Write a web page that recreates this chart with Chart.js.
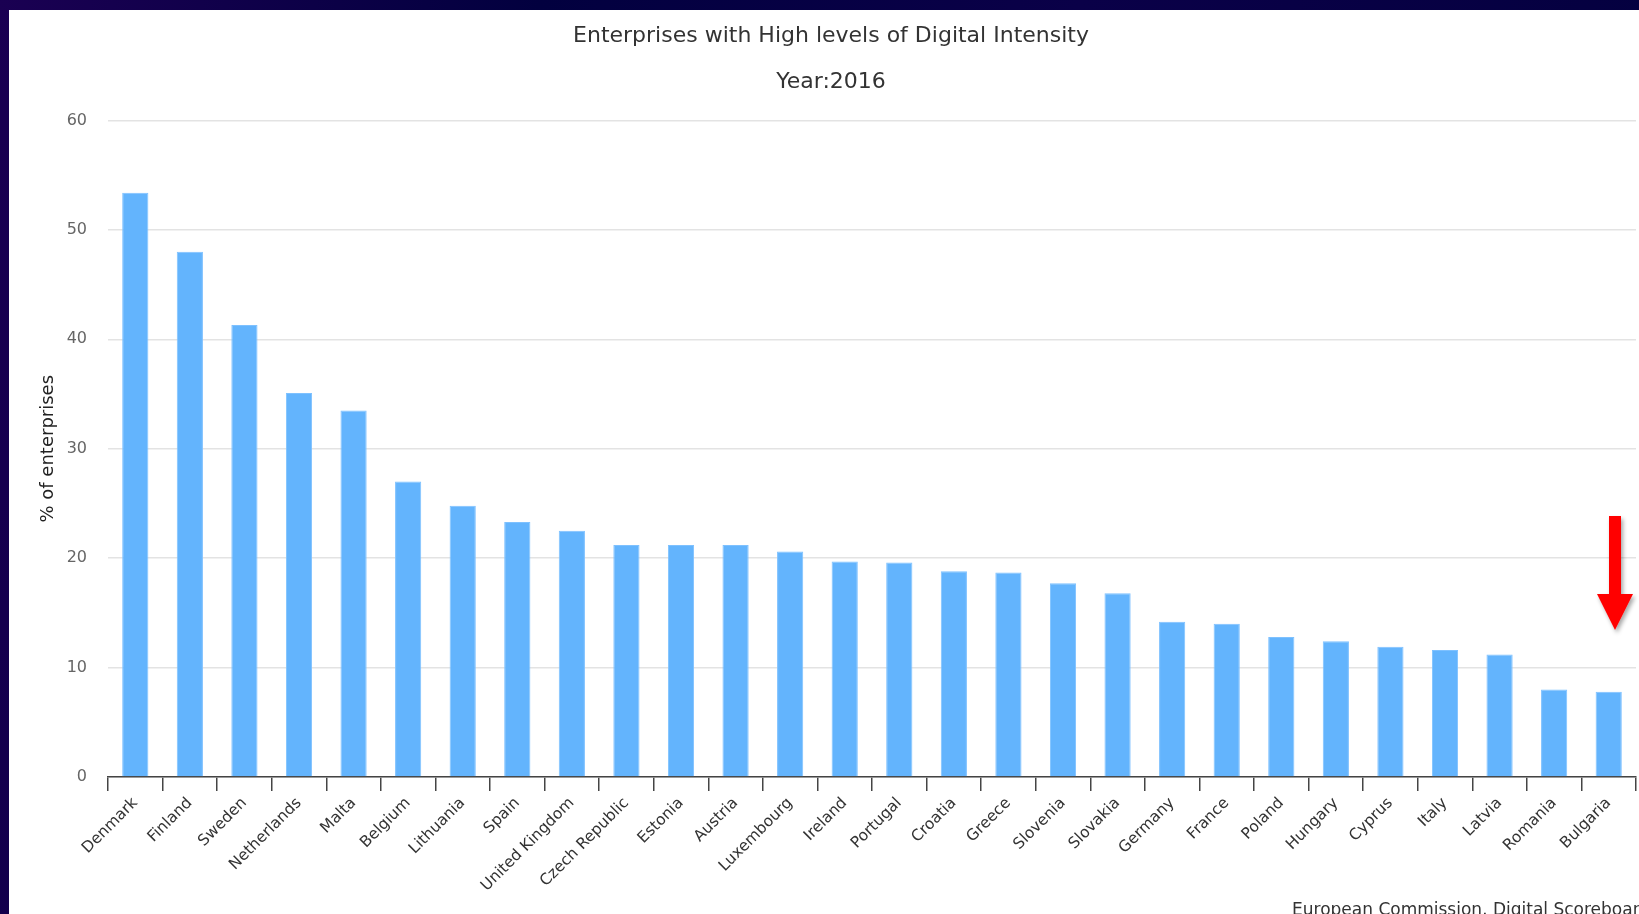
<!DOCTYPE html>
<html>
<head>
<meta charset="utf-8">
<title>Enterprises with High levels of Digital Intensity</title>
<script src="https://cdn.jsdelivr.net/npm/chart.js@4.4.1/dist/chart.umd.min.js"></script>
<style>
  html, body {
    margin: 0;
    padding: 0;
    width: 1639px;
    height: 914px;
    overflow: hidden;
    background: linear-gradient(100deg, #1a0052 0%, #02003f 30%, #0a0048 60%, #03003e 100%);
  }
  #panel {
    position: absolute;
    left: 9px;
    top: 10px;
    width: 1644px;
    height: 904px;
    background: #ffffff;
  }
  #myChart {
    position: absolute;
    left: 0;
    top: 0;
  }
  #source {
    position: absolute;
    left: 1283px;
    top: 889px;
    font-family: "DejaVu Sans", sans-serif;
    font-size: 17px;
    color: #333333;
    white-space: nowrap;
  }
  #arrow {
    position: absolute;
    left: 0;
    top: 0;
  }
</style>
</head>
<body>
<div id="panel">
  <canvas id="myChart" width="1644" height="904"></canvas>
  <div id="source">European Commission, Digital Scoreboard</div>
</div>
<svg id="arrow" width="1639" height="914">
  <defs>
    <filter id="shadow" x="-50%" y="-50%" width="200%" height="200%">
      <feDropShadow dx="2" dy="3" stdDeviation="2" flood-color="#000" flood-opacity="0.35"/>
    </filter>
  </defs>
  <polygon points="1609,516 1621,516 1621,594 1633,594 1615,630 1597,594 1609,594" fill="#ff0000" filter="url(#shadow)"/>
</svg>

<script>
/* chart data */
var countries = ['Denmark', 'Finland', 'Sweden', 'Netherlands', 'Malta', 'Belgium', 'Lithuania',
  'Spain', 'United Kingdom', 'Czech Republic', 'Estonia', 'Austria', 'Luxembourg', 'Ireland',
  'Portugal', 'Croatia', 'Greece', 'Slovenia', 'Slovakia', 'Germany', 'France', 'Poland',
  'Hungary', 'Cyprus', 'Italy', 'Latvia', 'Romania', 'Bulgaria'];
var shareOfEnterprises = [53.4, 48.0, 41.3, 35.1, 33.5, 27.0, 24.8,
  23.3, 22.5, 21.2, 21.2, 21.2, 20.6, 19.7,
  19.6, 18.8, 18.7, 17.7, 16.8, 14.2, 14.0, 12.8,
  12.4, 11.9, 11.6, 11.2, 8.0, 7.8];
var yTicks = [0, 10, 20, 30, 40, 50, 60];

var chartTitle = 'Enterprises with High levels of Digital Intensity';
var chartSubtitle = 'Year:2016';
var yAxisTitle = '% of enterprises';

var fontFamily = '"DejaVu Sans", sans-serif';

var config = {
  type: 'bar',
  data: {
    labels: countries,
    datasets: [{
      label: yAxisTitle,
      data: shareOfEnterprises,
      backgroundColor: '#63b4fd',
      borderColor: '#7ec1ff',
      borderWidth: 1,
      categoryPercentage: 1.0,
      barPercentage: 0.48
    }]
  },
  options: {
    responsive: false,
    devicePixelRatio: 1,
    animation: false,
    layout: {
      padding: { left: 17, right: 17, top: 0, bottom: 0 }
    },
    plugins: {
      legend: { display: false },
      tooltip: { enabled: false },
      title: {
        display: true,
        text: chartTitle,
        color: '#333333',
        font: { family: fontFamily, size: 22, weight: 'normal' },
        padding: { top: 13.3, bottom: 0 }
      },
      subtitle: {
        display: true,
        text: chartSubtitle,
        color: '#333333',
        font: { family: fontFamily, size: 22, weight: 'normal' },
        padding: { top: 19, bottom: 25.4 }
      }
    },
    scales: {
      x: {
        offset: true,
        afterFit: function(axis) {
          // fixed height so the plot bottom sits where the reference has it
          axis.height = 137;
        },
        grid: {
          offset: true,
          drawOnChartArea: false,
          drawTicks: true,
          tickLength: 14,
          color: '#444444',
          lineWidth: 1.5
        },
        border: { display: true, color: '#444444', width: 1.5 },
        ticks: {
          autoSkip: false,
          minRotation: 45,
          maxRotation: 45,
          padding: 3,
          color: '#333333',
          font: { family: fontFamily, size: 15.5 }
        }
      },
      y: {
        min: yTicks[0],
        max: yTicks[yTicks.length - 1],
        afterBuildTicks: function(axis) {
          axis.ticks = yTicks.map(function(v) { return { value: v }; });
        },
        afterFit: function(axis) {
          axis.width = 82;
        },
        grid: {
          drawTicks: false,
          color: '#e3e3e3',
          lineWidth: 1.5
        },
        border: { display: false },
        ticks: {
          padding: 21,
          color: '#666666',
          font: { family: fontFamily, size: 16 }
        },
        title: {
          display: true,
          text: yAxisTitle,
          color: '#222222',
          font: { family: fontFamily, size: 18 },
          padding: { top: 11.3, bottom: 0 }
        }
      }
    }
  }
};

window.onload = function() {
  var ctx = document.getElementById('myChart').getContext('2d');
  window.barChart = new Chart(ctx, config);
};
</script>
</body>
</html>
